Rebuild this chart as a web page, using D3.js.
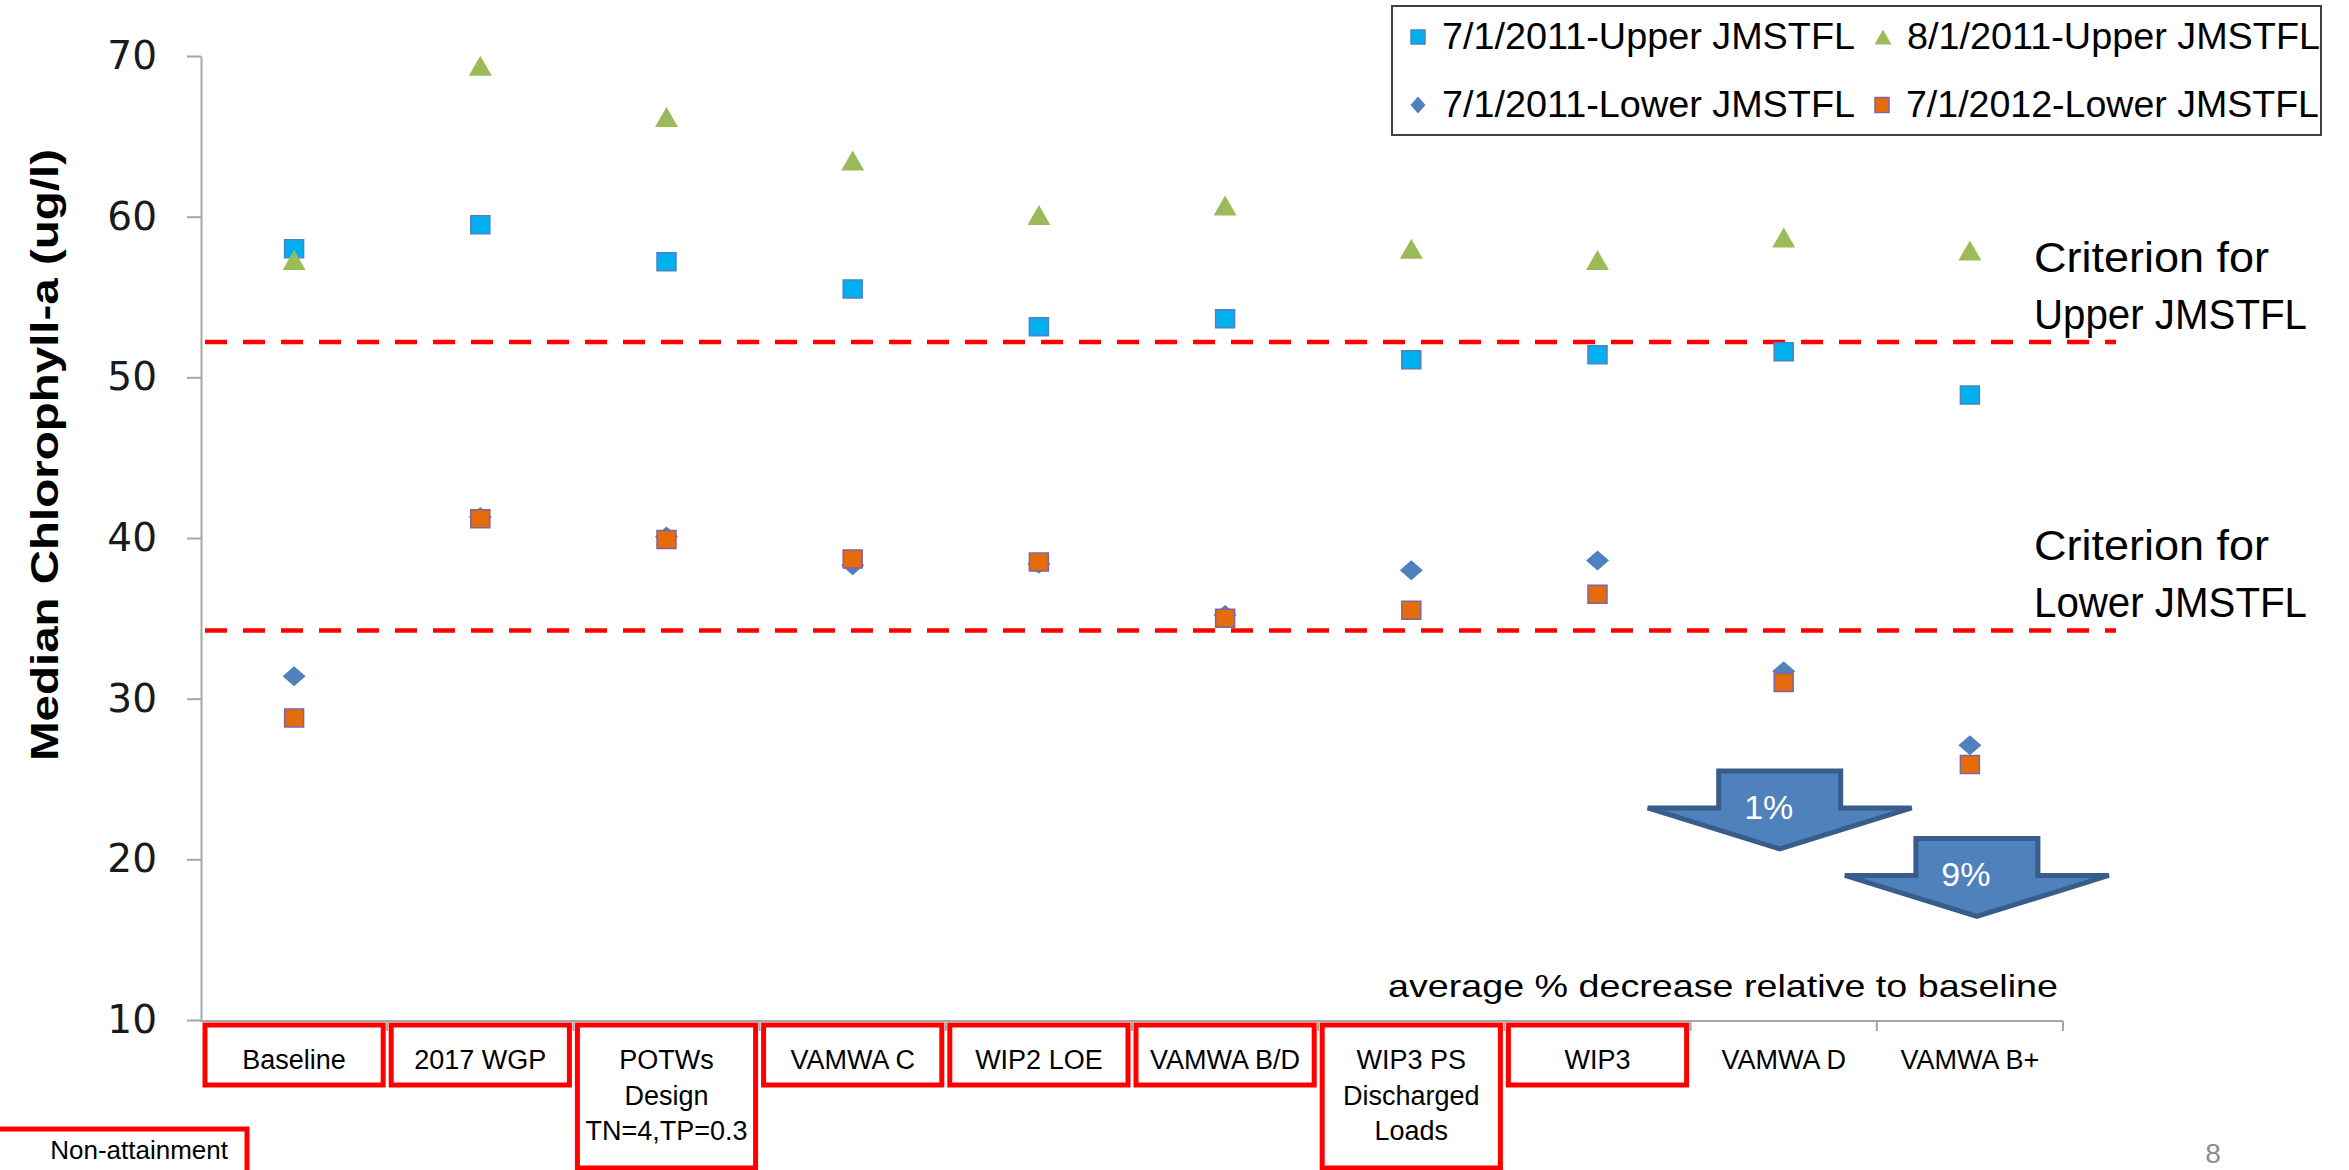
<!DOCTYPE html>
<html>
<head>
<meta charset="utf-8">
<script src="https://cdn.jsdelivr.net/npm/d3@7"></script>
<style>
  body { margin: 0; background: #fff; }
  svg { display: block; }
</style>
</head>
<body>
<div class="graph"></div>
<script>
// categories (one array of lines per tick label)
var categoryLines = [
    ["Baseline"], ["2017 WGP"], ["POTWs", "Design", "TN=4,TP=0.3"], ["VAMWA C"],
    ["WIP2 LOE"], ["VAMWA B/D"], ["WIP3 PS", "Discharged", "Loads"], ["WIP3"],
    ["VAMWA D"], ["VAMWA B+"]
];
var categories = categoryLines.map(function(d) { return d.join(" "); });

// median chlorophyll-a (ug/l)
var upperJul2011 = [58.0, 59.5, 57.2, 55.5, 53.15, 53.65, 51.1, 51.4, 51.6, 48.9];
var upperAug2011 = [57.3, 69.4, 66.2, 63.5, 60.1, 60.7, 58.0, 57.3, 58.7, 57.9];
var lowerJul2011 = [31.4, 41.3, 40.1, 38.3, 38.4, 35.2, 38.0, 38.6, 31.7, 27.1];
var lowerJul2012 = [28.8, 41.2, 39.9, 38.7, 38.5, 35.0, 35.5, 36.5, 31.0, 25.9];

var seriesNames = ["7/1/2011-Upper JMSTFL", "8/1/2011-Upper JMSTFL",
                   "7/1/2011-Lower JMSTFL", "7/1/2012-Lower JMSTFL"];

// criteria lines
var criteriaValues = [52.2, 34.25];
var criteriaLabels = [["Criterion for", "Upper JMSTFL"], ["Criterion for", "Lower JMSTFL"]];

// highlighted (non-attainment) scenarios
var nonAttainment = ["Baseline", "2017 WGP", "POTWs Design TN=4,TP=0.3", "VAMWA C",
                     "WIP2 LOE", "VAMWA B/D", "WIP3 PS Discharged Loads", "WIP3"];

// average % decrease arrows
var decreaseCats = ["VAMWA D", "VAMWA B+"];
var decreaseLabels = ["1%", "9%"];

var yTicks = [10, 20, 30, 40, 50, 60, 70];

var width = 2349, height = 1170;

var svg = d3.select(".graph").append("svg")
    .attr("width", width)
    .attr("height", height);

var xScale = d3.scaleBand().domain(categories).range([201, 2063]);
var yScale = d3.scaleLinear().domain([10, 70]).range([1020, 56]);
function cx(c) { return xScale(c) + xScale.bandwidth() / 2; }

// marker shapes, centred on 0,0
function shape(type, w, h) {
    if (type === "triangle") {
        return "M0," + (-h / 2) + "L" + (w / 2) + "," + (h / 2) + "L" + (-w / 2) + "," + (h / 2) + "Z";
    }
    if (type === "diamond") {
        return "M0," + (-h / 2) + "L" + (w / 2) + ",0L0," + (h / 2) + "L" + (-w / 2) + ",0Z";
    }
    return "M" + (-w / 2) + "," + (-h / 2) + "h" + w + "v" + h + "h" + (-w) + "Z";
}

var styles = [
    {type: "square",   w: 19, h: 18, fill: "#00b0f0", stroke: "#4f81bd", lw: 14, lh: 14},
    {type: "triangle", w: 23, h: 20, fill: "#9bbb59", stroke: "none",    lw: 17, lh: 15},
    {type: "diamond",  w: 23, h: 20, fill: "#4f81bd", stroke: "none",    lw: 15, lh: 17},
    {type: "square",   w: 19, h: 18, fill: "#e46c0a", stroke: "#8064a2", lw: 14, lh: 15}
];
var seriesValues = [upperJul2011, upperAug2011, lowerJul2011, lowerJul2012];

/* ** y axis ** */
var yAxis = d3.axisLeft(yScale).tickValues(yTicks).tickSize(14).tickSizeOuter(0).tickPadding(30);
var yg = svg.append("g")
    .attr("transform", "translate(201,0)")
    .call(yAxis);
yg.select(".domain").attr("stroke", "#a6a6a6").attr("stroke-width", 2);
yg.selectAll(".tick line").attr("stroke", "#a6a6a6").attr("stroke-width", 2);
yg.selectAll(".tick text")
    .attr("fill", "#1a1a1a")
    .style("font", "39px 'DejaVu Sans', sans-serif");

svg.append("text")
    .attr("transform", "translate(58,455)rotate(-90)")
    .attr("text-anchor", "middle")
    .attr("textLength", 612)
    .attr("lengthAdjust", "spacingAndGlyphs")
    .style("font", "bold 38px 'Liberation Sans', Arial, sans-serif")
    .text("Median Chlorophyll-a (ug/l)");

/* ** x axis: line plus boundary ticks ** */
svg.append("line")
    .attr("x1", 200).attr("x2", xScale.range()[1])
    .attr("y1", 1021).attr("y2", 1021)
    .attr("stroke", "#a6a6a6").attr("stroke-width", 2);
svg.selectAll(".xtick")
    .data(categories.slice(1).concat(["_end"]))
    .enter().append("line")
    .attr("class", "xtick")
    .attr("x1", function(d) { return d === "_end" ? xScale.range()[1] : xScale(d); })
    .attr("x2", function(d) { return d === "_end" ? xScale.range()[1] : xScale(d); })
    .attr("y1", 1021).attr("y2", 1031)
    .attr("stroke", "#a6a6a6").attr("stroke-width", 2);

// red boxes round the non-attainment labels
svg.selectAll(".nabox")
    .data(nonAttainment)
    .enter().append("rect")
    .attr("class", "nabox")
    .attr("x", function(d) { return xScale(d) + 4; })
    .attr("y", 1025)
    .attr("width", xScale.bandwidth() - 8)
    .attr("height", function(d) {
        var lines = categoryLines[categories.indexOf(d)].length;
        return lines > 1 ? 143 : 60;
    })
    .attr("fill", "none").attr("stroke", "#ff0000").attr("stroke-width", 5);

var xl = svg.selectAll(".xlabel")
    .data(categoryLines)
    .enter().append("text")
    .attr("class", "xlabel")
    .attr("text-anchor", "middle")
    .style("font", "27px 'Liberation Sans', Arial, sans-serif")
    .attr("fill", "#000");
xl.selectAll("tspan")
    .data(function(d, i) { return d.map(function(t) { return {t: t, c: categories[i]}; }); })
    .enter().append("tspan")
    .attr("x", function(d) { return cx(d.c); })
    .attr("y", function(d, j) { return 1069 + j * 35.5; })
    .text(function(d) { return d.t; });

/* ** criteria lines ** */
svg.selectAll(".crit")
    .data(criteriaValues)
    .enter().append("line")
    .attr("class", "crit")
    .attr("x1", 205).attr("x2", 2116)
    .attr("y1", function(d) { return yScale(d); })
    .attr("y2", function(d) { return yScale(d); })
    .attr("stroke", "#ff0000").attr("stroke-width", 4.5)
    .attr("stroke-dasharray", "22 16");

var cl = svg.selectAll(".critlabel")
    .data(criteriaLabels)
    .enter().append("text")
    .attr("class", "critlabel")
    .style("font", "42px 'Liberation Sans', Arial, sans-serif")
    .attr("fill", "#000");
cl.selectAll("tspan")
    .data(function(d, i) { return d.map(function(t) { return {t: t, v: criteriaValues[i]}; }); })
    .enter().append("tspan")
    .attr("x", 2034)
    .attr("y", function(d, j) { return yScale(d.v) - 70 + j * 57; })
    .attr("textLength", function(d, j) { return j === 0 ? 235 : 273; })
    .attr("lengthAdjust", "spacingAndGlyphs")
    .text(function(d) { return d.t; });

/* ** the four series ** */
seriesValues.forEach(function(vals, s) {
    var st = styles[s];
    svg.append("g").selectAll("path")
        .data(vals)
        .enter().append("path")
        .attr("transform", function(d, i) { return "translate(" + cx(categories[i]) + "," + yScale(d) + ")"; })
        .attr("d", shape(st.type, st.w, st.h))
        .attr("fill", st.fill)
        .attr("stroke", st.stroke)
        .attr("stroke-width", 1.5);
});

/* ** decrease arrows ** */
var arrowOffsets = [-4, 7], arrowTops = [25.5, 21.3];
decreaseCats.forEach(function(c, i) {
    var ax = cx(c) + arrowOffsets[i], top = yScale(arrowTops[i]);
    var p = "M" + (ax - 61) + "," + top + "H" + (ax + 61) + "V" + (top + 37) +
        "H" + (ax + 132) + "L" + ax + "," + (top + 78) + "L" + (ax - 132) + "," + (top + 37) +
        "H" + (ax - 61) + "Z";
    svg.append("path").attr("d", p)
        .attr("fill", "#4f81bd").attr("stroke", "#385d8a").attr("stroke-width", 5)
        .attr("stroke-linejoin", "miter");
    svg.append("text")
        .attr("x", ax - 11).attr("y", top + 48)
        .attr("text-anchor", "middle")
        .attr("fill", "#fff")
        .style("font", "34px 'Liberation Sans', Arial, sans-serif")
        .text(decreaseLabels[i]);
});

svg.append("text")
    .attr("x", 1388).attr("y", 997)
    .attr("textLength", 670)
    .attr("lengthAdjust", "spacingAndGlyphs")
    .style("font", "32px 'Liberation Sans', Arial, sans-serif")
    .text("average % decrease relative to baseline");

/* ** legend ** */
svg.append("rect")
    .attr("x", 1392).attr("y", 6).attr("width", 929).attr("height", 129)
    .attr("fill", "#fff").attr("stroke", "#404040").attr("stroke-width", 2);
var legendPos = [[1418, 37], [1883, 37], [1418, 105], [1882, 105]];
seriesNames.forEach(function(name, s) {
    var st = styles[s], pos = legendPos[s];
    svg.append("path")
        .attr("transform", "translate(" + pos[0] + "," + pos[1] + ")")
        .attr("d", shape(st.type, st.lw, st.lh))
        .attr("fill", st.fill).attr("stroke", st.stroke).attr("stroke-width", 1.5);
    svg.append("text")
        .attr("x", pos[0] + 24).attr("y", pos[1] + 12)
        .attr("textLength", 413)
        .attr("lengthAdjust", "spacingAndGlyphs")
        .style("font", "37px 'Liberation Sans', Arial, sans-serif")
        .text(name);
});

/* ** slide leftovers: non-attainment box and page number ** */
svg.append("rect")
    .attr("x", -10).attr("y", 1129).attr("width", 257).attr("height", 80)
    .attr("fill", "none").attr("stroke", "#ff0000").attr("stroke-width", 5);
svg.append("text")
    .attr("x", 228).attr("y", 1159)
    .attr("text-anchor", "end")
    .style("font", "26px 'Liberation Sans', Arial, sans-serif")
    .text("Non-attainment");
svg.append("text")
    .attr("x", 2213).attr("y", 1163)
    .attr("text-anchor", "middle")
    .attr("fill", "#8c8c8c")
    .style("font", "28px 'Liberation Sans', Arial, sans-serif")
    .text("8");
</script>
</body>
</html>
